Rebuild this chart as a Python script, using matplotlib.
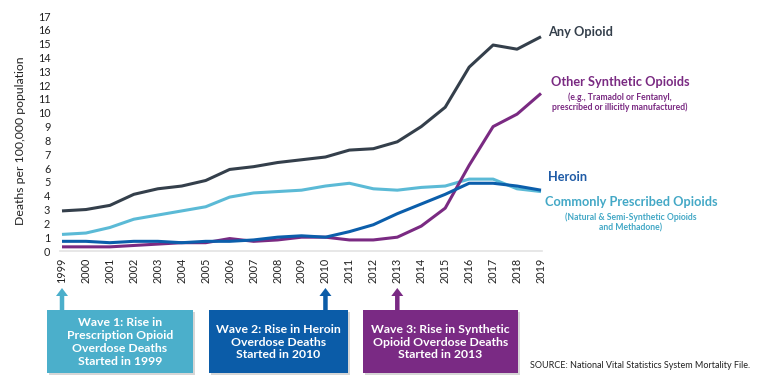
import matplotlib
matplotlib.use("Agg")
import matplotlib.pyplot as plt
import matplotlib.patches as mpatches

years = list(range(1999, 2020))
any_opioid = [2.9, 3.0, 3.3, 4.1, 4.5, 4.7, 5.1, 5.9, 6.1, 6.4, 6.6, 6.8, 7.3, 7.4, 7.9, 9.0, 10.4, 13.3, 14.9, 14.6, 15.5]
other_synthetic = [0.3, 0.3, 0.3, 0.4, 0.5, 0.6, 0.6, 0.9, 0.7, 0.8, 1.0, 1.0, 0.8, 0.8, 1.0, 1.8, 3.1, 6.2, 9.0, 9.9, 11.4]
heroin = [0.7, 0.7, 0.6, 0.7, 0.7, 0.6, 0.7, 0.7, 0.8, 1.0, 1.1, 1.0, 1.4, 1.9, 2.7, 3.4, 4.1, 4.9, 4.9, 4.7, 4.4]
prescribed = [1.2, 1.3, 1.7, 2.3, 2.6, 2.9, 3.2, 3.9, 4.2, 4.3, 4.4, 4.7, 4.9, 4.5, 4.4, 4.6, 4.7, 5.2, 5.2, 4.5, 4.3]
y_ticks = list(range(0, 18))

wave_years = [1999, 2010, 2013]
wave_texts = ["Wave 1: Rise in\nPrescription Opioid\nOverdose Deaths\nStarted in 1999",
              "Wave 2: Rise in Heroin\nOverdose Deaths\nStarted in 2010",
              "Wave 3: Rise in Synthetic\nOpioid Overdose Deaths\nStarted in 2013"]

C_ANY = "#343F4B"
C_SYN = "#7A2A82"
C_HER = "#0B5EAB"
C_PRE = "#5BBAD6"

plt.rcParams['font.family'] = ['Lato', 'DejaVu Sans']

W, H = 760, 389
fig = plt.figure(figsize=(W / 100, H / 100), dpi=100)

# main axes in pixel layout
L, R, T, B = 60, 542, 16, 251
ax = fig.add_axes([L / W, 1 - B / H, (R - L) / W, (B - T) / H])
ppy = 479 / 20.0
ax.set_xlim(1999 - 2 / ppy, 2019 + 1 / ppy)
ax.set_ylim(0, 17)

ax.plot(years, prescribed, color=C_PRE, lw=2.2, solid_capstyle='butt', zorder=3)
ax.plot(years, heroin, color=C_HER, lw=2.2, solid_capstyle='butt', zorder=4)
ax.plot(years, other_synthetic, color=C_SYN, lw=2.2, solid_capstyle='butt', zorder=3)
ax.plot(years, any_opioid, color=C_ANY, lw=2.2, solid_capstyle='butt', zorder=3)

ax.set_yticks(y_ticks)
ax.set_xticks(years)
ax.set_xticklabels([str(y) for y in years], rotation=90, fontsize=7.8, color="#222222")
ax.tick_params(axis='y', length=0, pad=7, labelsize=7.8, labelcolor="#222222")
ax.tick_params(axis='x', length=0, pad=5)
for s in ['top', 'right', 'left']:
    ax.spines[s].set_visible(False)
ax.spines['bottom'].set_color("#E3E3E3")
ax.spines['bottom'].set_linewidth(1.2)
ax.set_ylabel("Deaths per 100,000 population", fontsize=8.8, color="#222222")
ax.yaxis.set_label_coords(-(L - 26) / (R - L), 0.47)

# overlay in pixel coordinates
ov = fig.add_axes([0, 0, 1, 1], zorder=5)
ov.set_xlim(0, W)
ov.set_ylim(H, 0)
ov.axis('off')
ov.patch.set_alpha(0)

def year_px(yr):
    disp = ax.transData.transform((yr, 0))
    return ov.transData.inverted().transform(disp)[0]

# Series labels
ov.text(548, 32, "Any Opioid", color=C_ANY, fontsize=9.2, fontweight='bold', va='center', ha='left')
ov.text(620, 82, "Other Synthetic Opioids", color=C_SYN, fontsize=9.2, fontweight='bold', va='center', ha='center')
ov.text(620, 97, "(e.g., Tramadol or Fentanyl,", color=C_SYN, fontsize=6.2, fontweight='bold', va='center', ha='center')
ov.text(620, 107, "prescribed or illicitly manufactured)", color=C_SYN, fontsize=6.2, fontweight='bold', va='center', ha='center')
ov.text(548, 177, "Heroin", color="#1F5BA6", fontsize=9.2, fontweight='bold', va='center', ha='left')
ov.text(631, 202, "Commonly Prescribed Opioids", color="#43A8C6", fontsize=9.2, fontweight='bold', va='center', ha='center')
ov.text(631, 217, "(Natural & Semi-Synthetic Opioids", color="#43A8C6", fontsize=6.2, fontweight='bold', va='center', ha='center')
ov.text(631, 228, "and Methadone)", color="#43A8C6", fontsize=6.2, fontweight='bold', va='center', ha='center')

# Wave boxes and arrows
box_specs = [(47, 193, "#4BAFCB"), (209, 348, "#0B5CA8"), (363, 518, "#7A2A84")]
top, bot = 310, 373
for yr, txt, (x0, x1, col) in zip(wave_years, wave_texts, box_specs):
    # shadow
    ov.add_patch(mpatches.Rectangle((x0 + 2, top + 2), x1 - x0, bot - top,
                                    facecolor="#BBBBBB", edgecolor='none', alpha=0.6, zorder=1))
    ov.add_patch(mpatches.Rectangle((x0, top), x1 - x0, bot - top,
                                    facecolor=col, edgecolor='none', zorder=2))
    ov.text((x0 + x1) / 2, (top + bot) / 2 + 0.5, txt, color='white', fontsize=8.8,
            fontweight='bold', ha='center', va='center', linespacing=1.22, zorder=3)
    xa = year_px(yr)
    ov.add_patch(mpatches.FancyArrow(xa, top, 0, -(top - 288), width=4.5, head_width=12,
                                     head_length=8, length_includes_head=True,
                                     facecolor=col, edgecolor='none', zorder=2))

ov.text(530, 366, "SOURCE: National Vital Statistics System Mortality File.", color="#222222",
        fontsize=6.45, ha='left', va='center')

fig.savefig("out.png", dpi=100)
